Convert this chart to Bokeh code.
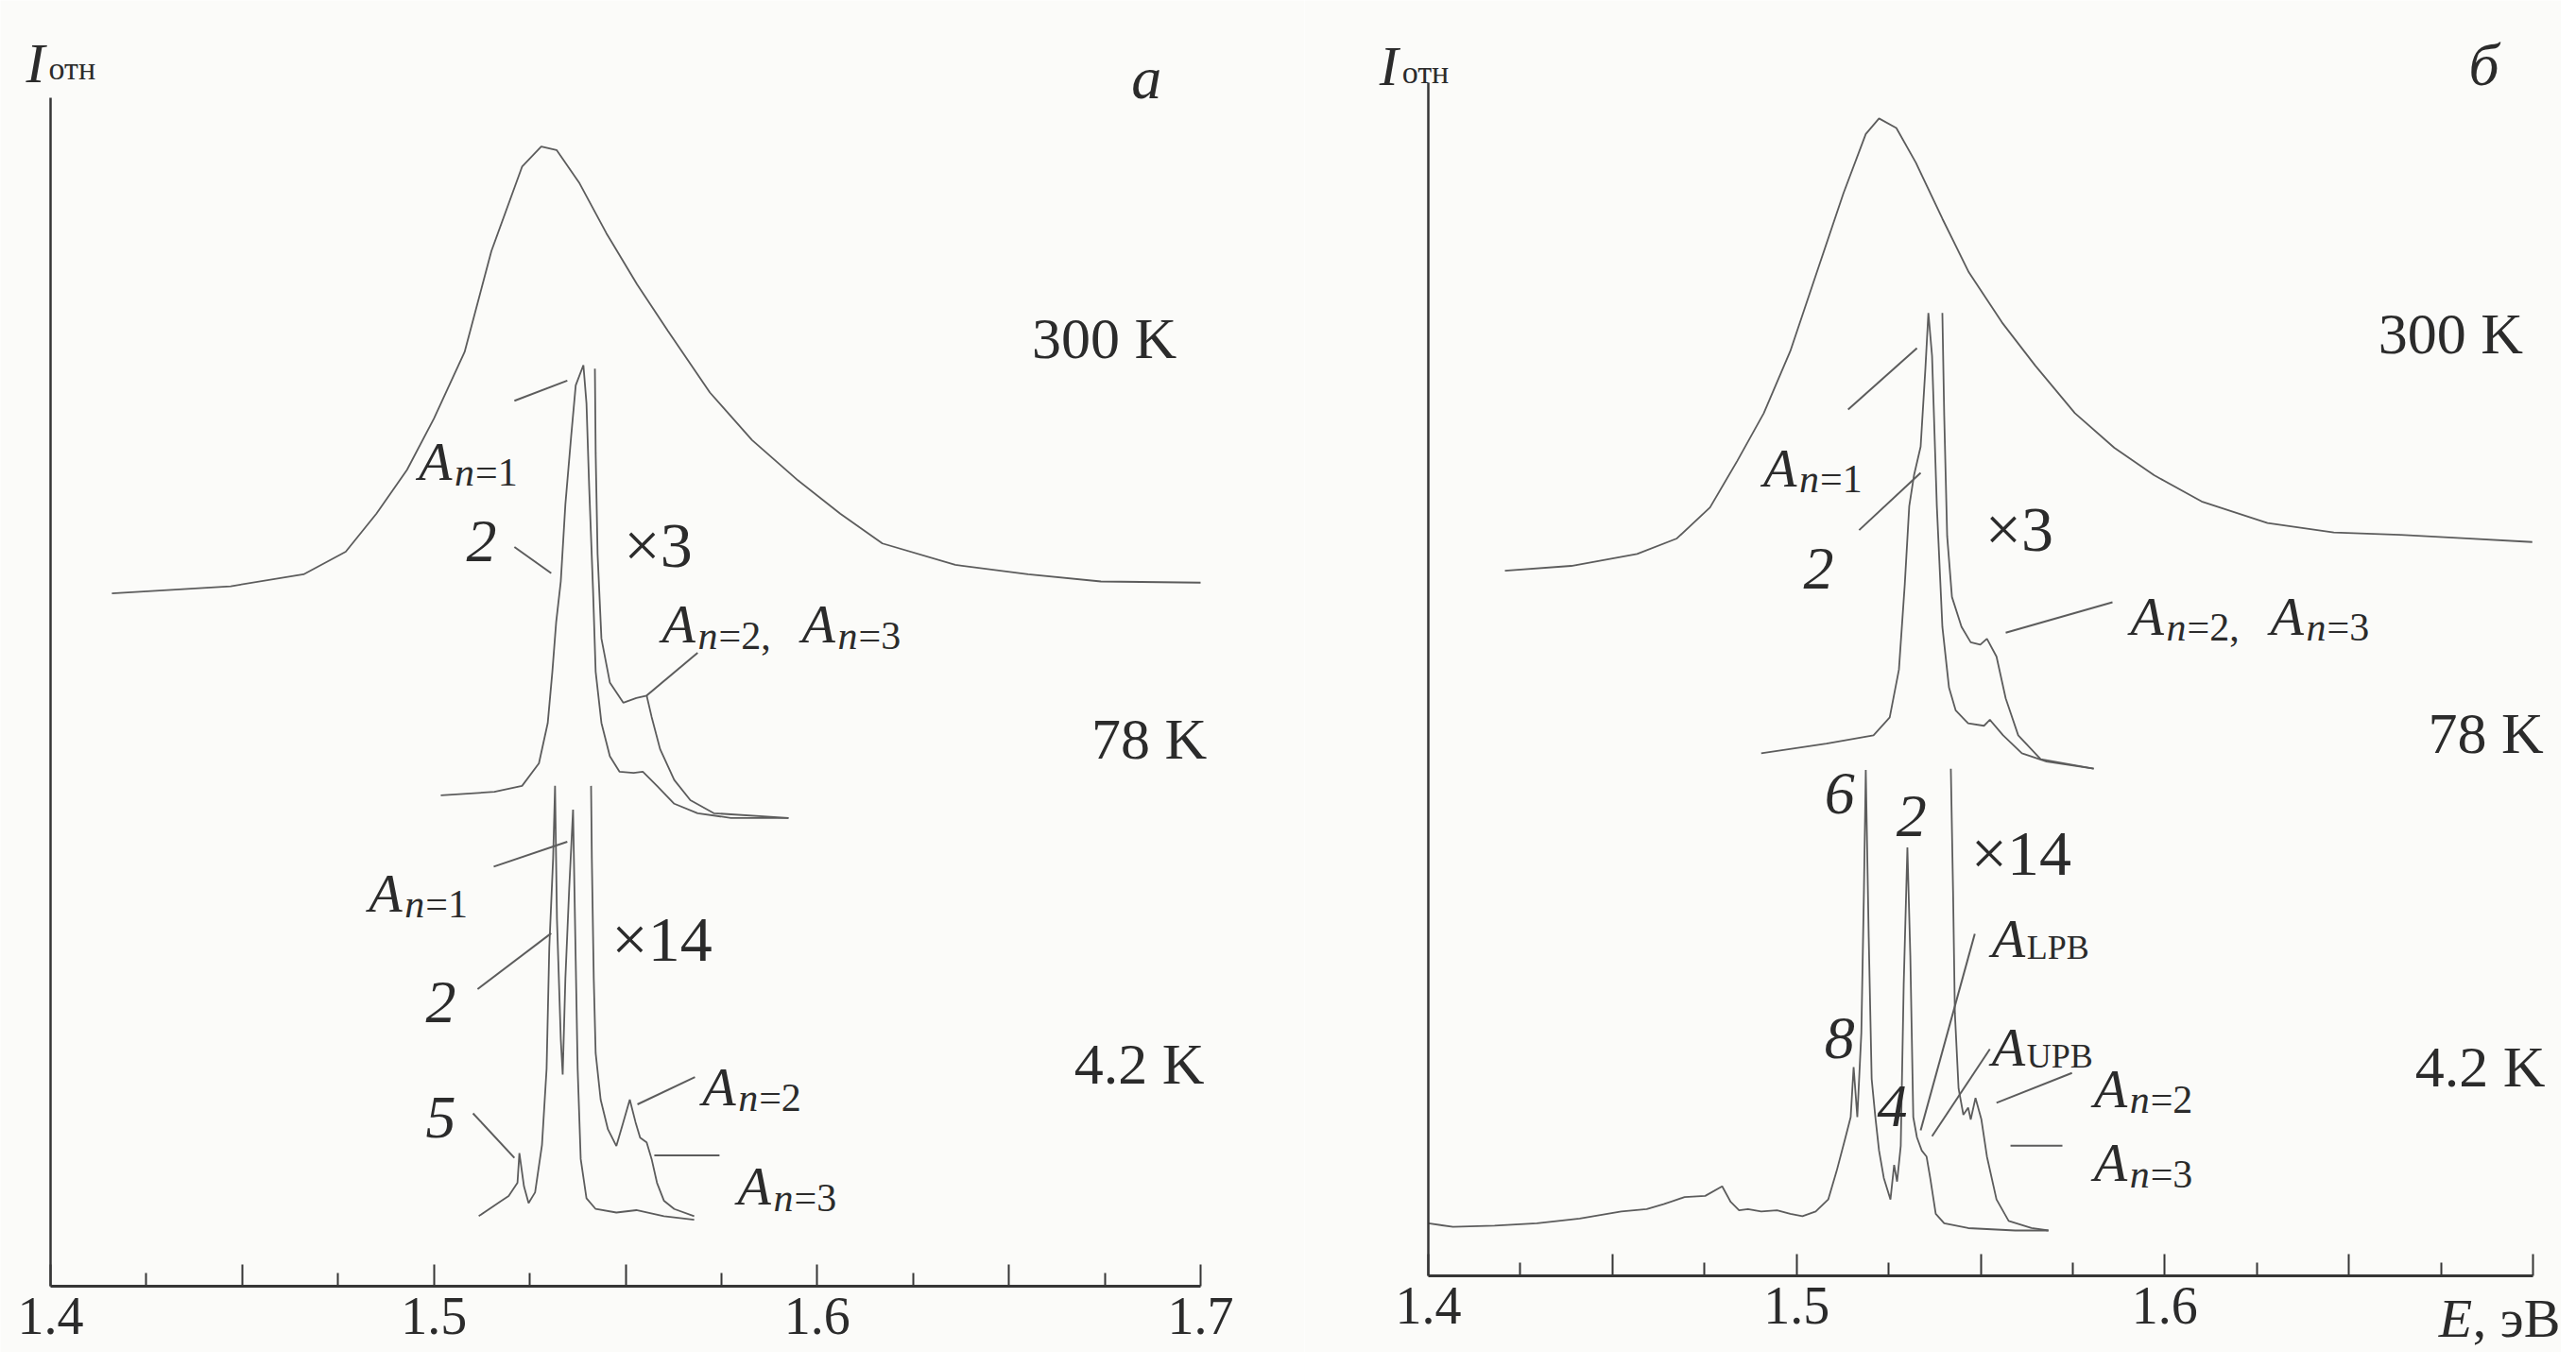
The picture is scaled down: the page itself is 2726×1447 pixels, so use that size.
from bokeh.plotting import figure
from bokeh.layouts import row
from bokeh.models import Range1d, FixedTicker, CustomJSTickFormatter, Label
from bokeh.embed import file_html
from bokeh.resources import INLINE

BG = "#fbfbf9"
LC = "#5c5c5c"
AC = "#363636"
TC = "#2b2b2b"
FONT = "Liberation Serif"

# ---------------- panel a (left) ----------------
a300_E = [1.416, 1.447, 1.466, 1.477, 1.485, 1.493, 1.500, 1.508, 1.515, 1.523, 1.528, 1.532,
          1.538, 1.545, 1.553, 1.561, 1.572, 1.583, 1.595, 1.606, 1.617, 1.636, 1.655, 1.674, 1.700]
a300_I = [0.583, 0.589, 0.599, 0.618, 0.650, 0.687, 0.730, 0.786, 0.871, 0.942, 0.959, 0.956,
          0.928, 0.886, 0.843, 0.804, 0.752, 0.712, 0.678, 0.650, 0.625, 0.607, 0.599, 0.593, 0.592]

a78_E = [1.5018, 1.5158, 1.5230, 1.5274, 1.5297, 1.5309, 1.5319, 1.5331, 1.5343, 1.5358, 1.5370,
         1.5390, 1.5398, 1.5405, 1.5415, 1.5422, 1.5437, 1.5459, 1.5484, 1.5521, 1.5545, 1.5582,
         1.5627, 1.5688, 1.5775, 1.5925]
a78_I = [0.413, 0.416, 0.421, 0.440, 0.474, 0.517, 0.559, 0.593, 0.658, 0.715, 0.758,
         0.775, 0.743, 0.673, 0.587, 0.517, 0.474, 0.446, 0.433, 0.432, 0.433, 0.421,
         0.406, 0.398, 0.394, 0.394]

a78x3_E = [1.5420, 1.5422, 1.5427, 1.5437, 1.5459, 1.5494, 1.5528, 1.5555, 1.5568, 1.5590,
           1.5627, 1.5669, 1.5730, 1.5925]
a78x3_I = [0.772, 0.701, 0.616, 0.545, 0.508, 0.491, 0.495, 0.497, 0.479, 0.452,
           0.426, 0.409, 0.398, 0.394]

a4_E = [1.5117, 1.5195, 1.5218, 1.5223, 1.5235, 1.5247, 1.5264, 1.5282, 1.5294, 1.5301, 1.5311,
        1.5316, 1.5321, 1.5331, 1.5336, 1.5343, 1.5353, 1.5363, 1.5368, 1.5375, 1.5383, 1.5398,
        1.5422, 1.5476, 1.5528, 1.5600, 1.5679]
a4_I = [0.059, 0.076, 0.087, 0.112, 0.084, 0.070, 0.079, 0.119, 0.183, 0.285, 0.360,
        0.421, 0.309, 0.208, 0.178, 0.259, 0.335, 0.401, 0.309, 0.183, 0.107, 0.074,
        0.065, 0.062, 0.064, 0.059, 0.056]

a4x14_E = [1.5410, 1.5412, 1.5417, 1.5422, 1.5435, 1.5454, 1.5476, 1.5494, 1.5511, 1.5526,
           1.5538, 1.5555, 1.5568, 1.5582, 1.5600, 1.5627, 1.5679]
a4x14_I = [0.421, 0.360, 0.259, 0.196, 0.157, 0.132, 0.118, 0.138, 0.157, 0.138,
           0.125, 0.121, 0.107, 0.087, 0.072, 0.065, 0.059]

# leader lines, panel a
a_lead_x0 = [1.5210, 1.5210, 1.5688, 1.5156, 1.5114, 1.5102, 1.5681, 1.5575]
a_lead_y0 = [0.745, 0.622, 0.533, 0.353, 0.250, 0.1455, 0.176, 0.110]
a_lead_x1 = [1.5348, 1.5306, 1.5555, 1.5348, 1.5306, 1.5210, 1.5531, 1.5745]
a_lead_y1 = [0.762, 0.600, 0.497, 0.374, 0.297, 0.108, 0.153, 0.110]

# ---------------- panel b (right) ----------------
b300_E = [1.4208, 1.4388, 1.4567, 1.4675, 1.4765, 1.4839, 1.4911, 1.4983, 1.5055, 1.5127, 1.5188,
          1.5224, 1.5271, 1.5324, 1.5396, 1.5468, 1.5558, 1.5648, 1.5756, 1.5863, 1.5971, 1.6100,
          1.6279, 1.6459, 1.6639, 1.6818, 1.6998]
b300_I = [0.591, 0.595, 0.605, 0.618, 0.644, 0.683, 0.723, 0.775, 0.841, 0.907, 0.957,
          0.970, 0.962, 0.933, 0.886, 0.841, 0.799, 0.763, 0.723, 0.694, 0.671, 0.649,
          0.631, 0.623, 0.621, 0.618, 0.615]

b78_E = [1.4904, 1.5081, 1.5209, 1.5253, 1.5278, 1.5294, 1.5306, 1.5319, 1.5337, 1.5350, 1.5358,
         1.5368, 1.5381, 1.5396, 1.5414, 1.5432, 1.5466, 1.5509, 1.5525, 1.5561, 1.5612, 1.5679,
         1.5807]
b78_I = [0.438, 0.446, 0.453, 0.468, 0.508, 0.580, 0.645, 0.671, 0.695, 0.761, 0.807,
         0.771, 0.645, 0.544, 0.493, 0.474, 0.463, 0.461, 0.466, 0.453, 0.438, 0.431,
         0.425]

b78x3_E = [1.5396, 1.5401, 1.5409, 1.5422, 1.5448, 1.5473, 1.5499, 1.5517, 1.5543, 1.5568,
           1.5602, 1.5663, 1.5807]
b78x3_I = [0.807, 0.721, 0.620, 0.569, 0.544, 0.531, 0.529, 0.534, 0.519, 0.484,
           0.453, 0.433, 0.425]

b4_E = [1.4000, 1.4067, 1.4180, 1.4295, 1.4411, 1.4524, 1.4593, 1.4639, 1.4696, 1.4752, 1.4798,
        1.4821, 1.4844, 1.4868, 1.4904, 1.4947, 1.4983, 1.5016, 1.5052, 1.5086, 1.5109, 1.5132,
        1.5147, 1.5155, 1.5165, 1.5176, 1.5183, 1.5188, 1.5196, 1.5204, 1.5214, 1.5224, 1.5237,
        1.5255, 1.5265, 1.5273, 1.5283, 1.5291, 1.5301, 1.5309, 1.5317, 1.5327, 1.5340, 1.5353,
        1.5363, 1.5378, 1.5401, 1.5466, 1.5594, 1.5684]
b4_I = [0.044, 0.041, 0.042, 0.044, 0.048, 0.054, 0.056, 0.060, 0.066, 0.067, 0.075,
        0.062, 0.055, 0.056, 0.054, 0.055, 0.052, 0.050, 0.054, 0.064, 0.088, 0.115,
        0.133, 0.175, 0.133, 0.204, 0.323, 0.424, 0.284, 0.165, 0.133, 0.105, 0.082,
        0.064, 0.093, 0.079, 0.109, 0.244, 0.359, 0.268, 0.133, 0.116, 0.105, 0.100,
        0.082, 0.052, 0.044, 0.040, 0.038, 0.038]

b4x14_E = [1.5419, 1.5425, 1.5430, 1.5440, 1.5453, 1.5466, 1.5473, 1.5486, 1.5502, 1.5517,
           1.5543, 1.5576, 1.5638, 1.5684]
b4x14_I = [0.425, 0.323, 0.220, 0.157, 0.135, 0.141, 0.131, 0.149, 0.131, 0.100,
           0.064, 0.046, 0.040, 0.038]

b_lead_x0 = [1.5140, 1.5170, 1.5858, 1.5484, 1.5525, 1.5748, 1.5581]
b_lead_y0 = [0.726, 0.625, 0.5645, 0.2866, 0.190, 0.170, 0.109]
b_lead_x1 = [1.5327, 1.5337, 1.5568, 1.5337, 1.5368, 1.5543, 1.5722]
b_lead_y1 = [0.7775, 0.673, 0.539, 0.1219, 0.117, 0.145, 0.109]

# ---------------- axes ----------------
E_MIN, E_MAX = 1.4, 1.7
major_ticks = [1.40, 1.45, 1.50, 1.55, 1.60, 1.65, 1.70]
minor_ticks = [1.425, 1.475, 1.525, 1.575, 1.625, 1.675]
a_tick_vals = [1.4, 1.5, 1.6, 1.7]
a_tick_labels = ["1.4", "1.5", "1.6", "1.7"]
b_tick_vals = [1.4, 1.5, 1.6]
b_tick_labels = ["1.4", "1.5", "1.6"]
b_unit_label = ", эВ"

FMT = """
for (let i = 0; i < vals.length; i++) {
  if (Math.abs(tick - vals[i]) < 1e-6) { return labs[i]; }
}
return "";
"""

FIG_H = 1431
STANDOFF = 12
TICK_FS = 56
TEMP_FS = 62      # "300 K", "78 K", "4.2 K"
MULT_FS = 68      # "×3", "×14"
NUM_FS = 64       # italic curve numbers
A_FS = 58         # italic A
SUB_FS = 42       # subscripts


def make_fig(width, ax_left, ax_right, ax_top, ax_bottom, vals, labs):
    # ax_* : pixel positions (inside the figure) of the axis box E=1.4..1.7, I=0..1
    sx = (ax_right - ax_left) / (E_MAX - E_MIN)
    sy = (ax_bottom - ax_top) / 1.0
    xr = Range1d(E_MIN - ax_left / sx, E_MAX + (width - ax_right) / sx)
    yr = Range1d(-(FIG_H - ax_bottom) / sy, 1.0 + ax_top / sy)
    p = figure(width=width, height=FIG_H, x_range=xr, y_range=yr,
               output_backend="svg", toolbar_location=None,
               min_border_left=0, min_border_right=0, min_border_top=0, min_border_bottom=0,
               background_fill_color=BG, border_fill_color=BG, outline_line_color=None)
    p.grid.visible = False
    ax = p.xaxis[0]
    ax.fixed_location = 0
    ax.bounds = (E_MIN, E_MAX)
    ax.ticker = FixedTicker(ticks=major_ticks, minor_ticks=minor_ticks)
    ax.formatter = CustomJSTickFormatter(args=dict(vals=vals, labs=labs), code=FMT)
    ax.axis_line_width = 3
    ax.axis_line_color = AC
    ax.major_tick_in = 23
    ax.major_tick_out = 0
    ax.minor_tick_in = 14
    ax.minor_tick_out = 0
    ax.major_tick_line_width = 2
    ax.minor_tick_line_width = 2
    ax.major_tick_line_color = AC
    ax.minor_tick_line_color = AC
    ax.major_label_text_font = FONT
    ax.major_label_text_font_size = f"{TICK_FS}px"
    ax.major_label_text_color = TC
    ax.major_label_standoff = STANDOFF
    ay = p.yaxis[0]
    ay.fixed_location = E_MIN
    ay.bounds = (0, 1)
    ay.ticker = FixedTicker(ticks=[])
    ay.major_tick_line_color = None
    ay.minor_tick_line_color = None
    ay.major_label_text_font_size = "0px"
    ay.axis_line_width = 2.5
    ay.axis_line_color = AC
    return p


def txt(p, x, y, s, size=54, style="normal", align="left", baseline="alphabetic", xo=0, yo=0):
    p.add_layout(Label(x=x, y=y, text=s, text_font=FONT, text_font_size=f"{size}px",
                       text_font_style=style, text_color=TC, text_align=align,
                       text_baseline=baseline, x_offset=xo, y_offset=yo))


def a_n(p, x, y, n, xo=0):
    # italic A with subscript n=<n>
    txt(p, x, y, "A", A_FS, "italic", xo=xo)
    txt(p, x, y, "n", SUB_FS, "italic", xo=xo + 38, yo=-12)
    txt(p, x, y, "=" + n, SUB_FS, "normal", xo=xo + 60, yo=-12)


def a_sub(p, x, y, sub):
    txt(p, x, y, "A", A_FS, "italic")
    txt(p, x, y, sub, 36, "normal", xo=37, yo=-10)


def y_label(p, x, y):
    txt(p, x, y, "I", 60, "italic")
    txt(p, x, y, "отн", 34, "normal", xo=24, yo=-6)


def temp(p, x, y, s):
    txt(p, x, y, s, TEMP_FS, baseline="middle")


def num(p, x, y, s):
    txt(p, x, y, s, NUM_FS, "italic", align="center", baseline="middle")


def mult(p, x, y, s):
    txt(p, x, y, s, MULT_FS, align="center", baseline="middle")


# ---------------- build panel a ----------------
pa = make_fig(1380, 53, 1270, 103, 1361, a_tick_vals, a_tick_labels)
for E, I in [(a300_E, a300_I), (a78_E, a78_I), (a78x3_E, a78x3_I), (a4_E, a4_I), (a4x14_E, a4x14_I)]:
    pa.line(E, I, line_color=LC, line_width=1.8)
pa.segment(a_lead_x0, a_lead_y0, a_lead_x1, a_lead_y1, line_color=LC, line_width=2)

y_label(pa, 1.3936, 1.0294)
txt(pa, 1.6859, 1.0167, "а", 64, "italic", align="center", baseline="middle")
temp(pa, 1.6560, 0.798, "300 K")
temp(pa, 1.6715, 0.461, "78 K")
temp(pa, 1.6670, 0.187, "4.2 K")
a_n(pa, 1.4960, 0.694, "1")
num(pa, 1.5124, 0.627, "2")
mult(pa, 1.5585, 0.624, "×3")
a_n(pa, 1.5595, 0.557, "2,")
a_n(pa, 1.5595, 0.557, "3", xo=148)
a_n(pa, 1.4830, 0.331, "1")
mult(pa, 1.5595, 0.2925, "×14")
num(pa, 1.5018, 0.239, "2")
num(pa, 1.5018, 0.142, "5")
a_n(pa, 1.5700, 0.168, "2")
a_n(pa, 1.5792, 0.084, "3")

# ---------------- build panel b ----------------
pb = make_fig(1330, 131, 1300, 87, 1350, b_tick_vals, b_tick_labels)
for E, I in [(b300_E, b300_I), (b78_E, b78_I), (b78x3_E, b78x3_I), (b4_E, b4_I), (b4x14_E, b4x14_I)]:
    pb.line(E, I, line_color=LC, line_width=1.8)
pb.segment(b_lead_x0, b_lead_y0, b_lead_x1, b_lead_y1, line_color=LC, line_width=2)

y_label(pb, 1.3867, 1.0135)
txt(pb, 1.6867, 1.015, "б", 64, "italic", align="center", baseline="middle")
temp(pb, 1.6580, 0.790, "300 K")
temp(pb, 1.6715, 0.4545, "78 K")
temp(pb, 1.6680, 0.175, "4.2 K")
a_n(pb, 1.4910, 0.677, "1")
num(pb, 1.5060, 0.593, "2")
mult(pb, 1.5605, 0.6255, "×3")
a_n(pb, 1.5907, 0.5527, "2,")
a_n(pb, 1.5907, 0.5527, "3", xo=148)
num(pb, 1.5117, 0.404, "6")
num(pb, 1.5312, 0.385, "2")
mult(pb, 1.5610, 0.354, "×14")
a_sub(pb, 1.5530, 0.283, "LPB")
a_sub(pb, 1.5530, 0.192, "UPB")
num(pb, 1.5117, 0.199, "8")
num(pb, 1.5260, 0.1425, "4")
a_n(pb, 1.5807, 0.157, "2")
a_n(pb, 1.5807, 0.095, "3")
# axis quantity at the end of the energy axis, level with the tick labels
txt(pb, 1.6744, 0.0, "E", 58, "italic", baseline="top", yo=-STANDOFF)
txt(pb, 1.6744, 0.0, b_unit_label, 58, "normal", baseline="top", xo=36, yo=-STANDOFF)

layout = row(pa, pb)
open("out.html", "w").write(file_html(layout, INLINE))
